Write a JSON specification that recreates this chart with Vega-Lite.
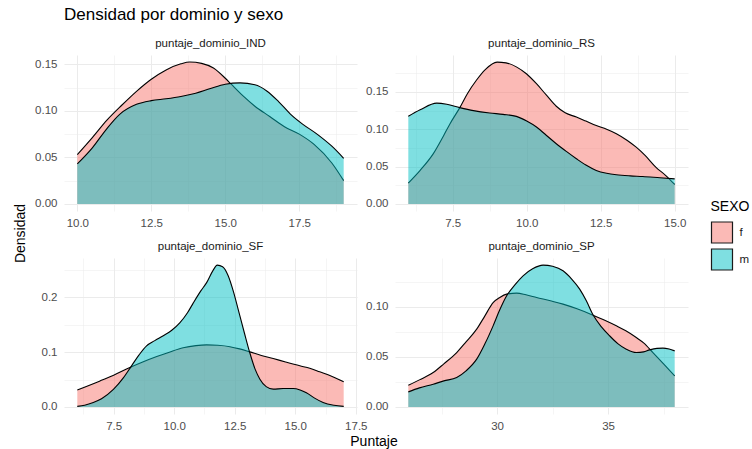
{
  "$schema": "https://vega.github.io/schema/vega-lite/v6.json",
  "padding": {"left": 13, "top": 5, "right": 5, "bottom": 5},
  "title": {"text": "Densidad por dominio y sexo", "anchor": "start", "frame": "group", "fontSize": 17, "fontWeight": "normal", "font": "Liberation Sans", "color": "#000000", "offset": 14},
  "data": {"values": [
    {"d":"IND","s":"f","p":10.0,"v":0.053},{"d":"IND","s":"f","p":10.5,"v":0.071},{"d":"IND","s":"f","p":11.0,"v":0.090},{"d":"IND","s":"f","p":11.5,"v":0.106},{"d":"IND","s":"f","p":12.0,"v":0.121},{"d":"IND","s":"f","p":12.5,"v":0.134},{"d":"IND","s":"f","p":13.0,"v":0.144},{"d":"IND","s":"f","p":13.5,"v":0.1505},{"d":"IND","s":"f","p":13.8,"v":0.1525},{"d":"IND","s":"f","p":14.2,"v":0.151},{"d":"IND","s":"f","p":14.6,"v":0.146},{"d":"IND","s":"f","p":15.0,"v":0.135},{"d":"IND","s":"f","p":15.2,"v":0.1286},{"d":"IND","s":"f","p":15.6,"v":0.116},{"d":"IND","s":"f","p":16.0,"v":0.105},{"d":"IND","s":"f","p":16.5,"v":0.094},{"d":"IND","s":"f","p":17.0,"v":0.083},{"d":"IND","s":"f","p":17.5,"v":0.075},{"d":"IND","s":"f","p":18.0,"v":0.064},{"d":"IND","s":"f","p":18.6,"v":0.044},{"d":"IND","s":"f","p":19.0,"v":0.025},
    {"d":"IND","s":"m","p":10.0,"v":0.043},{"d":"IND","s":"m","p":10.5,"v":0.060},{"d":"IND","s":"m","p":11.0,"v":0.081},{"d":"IND","s":"m","p":11.44,"v":0.0965},{"d":"IND","s":"m","p":12.0,"v":0.107},{"d":"IND","s":"m","p":12.5,"v":0.111},{"d":"IND","s":"m","p":13.0,"v":0.113},{"d":"IND","s":"m","p":13.5,"v":0.1155},{"d":"IND","s":"m","p":14.0,"v":0.119},{"d":"IND","s":"m","p":14.5,"v":0.124},{"d":"IND","s":"m","p":15.0,"v":0.1285},{"d":"IND","s":"m","p":15.5,"v":0.130},{"d":"IND","s":"m","p":16.0,"v":0.128},{"d":"IND","s":"m","p":16.4,"v":0.1214},{"d":"IND","s":"m","p":16.8,"v":0.110},{"d":"IND","s":"m","p":17.2,"v":0.0965},{"d":"IND","s":"m","p":17.6,"v":0.086},{"d":"IND","s":"m","p":18.1,"v":0.075},{"d":"IND","s":"m","p":18.6,"v":0.062},{"d":"IND","s":"m","p":19.0,"v":0.049},
    {"d":"RS","s":"f","p":6.0,"v":0.028},{"d":"RS","s":"f","p":6.4,"v":0.045},{"d":"RS","s":"f","p":6.84,"v":0.067},{"d":"RS","s":"f","p":7.2,"v":0.092},{"d":"RS","s":"f","p":7.41,"v":0.1075},{"d":"RS","s":"f","p":7.74,"v":0.129},{"d":"RS","s":"f","p":8.0,"v":0.148},{"d":"RS","s":"f","p":8.3,"v":0.1657},{"d":"RS","s":"f","p":8.6,"v":0.180},{"d":"RS","s":"f","p":9.0,"v":0.190},{"d":"RS","s":"f","p":9.3,"v":0.189},{"d":"RS","s":"f","p":9.65,"v":0.1836},{"d":"RS","s":"f","p":10.0,"v":0.174},{"d":"RS","s":"f","p":10.33,"v":0.161},{"d":"RS","s":"f","p":10.66,"v":0.146},{"d":"RS","s":"f","p":11.0,"v":0.1308},{"d":"RS","s":"f","p":11.3,"v":0.122},{"d":"RS","s":"f","p":11.68,"v":0.1164},{"d":"RS","s":"f","p":12.0,"v":0.111},{"d":"RS","s":"f","p":12.35,"v":0.105},{"d":"RS","s":"f","p":12.7,"v":0.100},{"d":"RS","s":"f","p":13.03,"v":0.094},{"d":"RS","s":"f","p":13.4,"v":0.085},{"d":"RS","s":"f","p":13.7,"v":0.076},{"d":"RS","s":"f","p":14.0,"v":0.065},{"d":"RS","s":"f","p":14.37,"v":0.049},{"d":"RS","s":"f","p":14.7,"v":0.038},{"d":"RS","s":"f","p":15.0,"v":0.026},
    {"d":"RS","s":"m","p":6.0,"v":0.1173},{"d":"RS","s":"m","p":6.4,"v":0.126},{"d":"RS","s":"m","p":6.96,"v":0.135},{"d":"RS","s":"m","p":7.3,"v":0.1335},{"d":"RS","s":"m","p":7.74,"v":0.129},{"d":"RS","s":"m","p":8.2,"v":0.125},{"d":"RS","s":"m","p":8.75,"v":0.1218},{"d":"RS","s":"m","p":9.2,"v":0.120},{"d":"RS","s":"m","p":9.65,"v":0.1173},{"d":"RS","s":"m","p":10.0,"v":0.111},{"d":"RS","s":"m","p":10.33,"v":0.103},{"d":"RS","s":"m","p":10.66,"v":0.092},{"d":"RS","s":"m","p":11.0,"v":0.0806},{"d":"RS","s":"m","p":11.35,"v":0.070},{"d":"RS","s":"m","p":11.68,"v":0.0605},{"d":"RS","s":"m","p":12.0,"v":0.052},{"d":"RS","s":"m","p":12.35,"v":0.0448},{"d":"RS","s":"m","p":12.7,"v":0.041},{"d":"RS","s":"m","p":13.03,"v":0.039},{"d":"RS","s":"m","p":13.5,"v":0.0375},{"d":"RS","s":"m","p":13.92,"v":0.0367},{"d":"RS","s":"m","p":14.5,"v":0.035},{"d":"RS","s":"m","p":15.0,"v":0.0336},
    {"d":"SF","s":"f","p":6.0,"v":0.031},{"d":"SF","s":"f","p":6.94,"v":0.0475},{"d":"SF","s":"f","p":7.5,"v":0.058},{"d":"SF","s":"f","p":8.17,"v":0.072},{"d":"SF","s":"f","p":8.7,"v":0.082},{"d":"SF","s":"f","p":9.28,"v":0.092},{"d":"SF","s":"f","p":9.8,"v":0.100},{"d":"SF","s":"f","p":10.37,"v":0.108},{"d":"SF","s":"f","p":10.9,"v":0.112},{"d":"SF","s":"f","p":11.34,"v":0.1133},{"d":"SF","s":"f","p":11.8,"v":0.1125},{"d":"SF","s":"f","p":12.3,"v":0.110},{"d":"SF","s":"f","p":12.7,"v":0.106},{"d":"SF","s":"f","p":13.12,"v":0.1005},{"d":"SF","s":"f","p":13.6,"v":0.094},{"d":"SF","s":"f","p":14.09,"v":0.0883},{"d":"SF","s":"f","p":14.6,"v":0.082},{"d":"SF","s":"f","p":15.19,"v":0.075},{"d":"SF","s":"f","p":15.6,"v":0.0705},{"d":"SF","s":"f","p":16.01,"v":0.064},{"d":"SF","s":"f","p":16.5,"v":0.056},{"d":"SF","s":"f","p":17.0,"v":0.0457},
    {"d":"SF","s":"m","p":6.0,"v":0.001},{"d":"SF","s":"m","p":6.3,"v":0.003},{"d":"SF","s":"m","p":6.66,"v":0.008},{"d":"SF","s":"m","p":7.0,"v":0.015},{"d":"SF","s":"m","p":7.49,"v":0.032},{"d":"SF","s":"m","p":7.9,"v":0.053},{"d":"SF","s":"m","p":8.24,"v":0.075},{"d":"SF","s":"m","p":8.55,"v":0.095},{"d":"SF","s":"m","p":8.86,"v":0.1115},{"d":"SF","s":"m","p":9.2,"v":0.121},{"d":"SF","s":"m","p":9.55,"v":0.130},{"d":"SF","s":"m","p":9.9,"v":0.140},{"d":"SF","s":"m","p":10.24,"v":0.154},{"d":"SF","s":"m","p":10.55,"v":0.172},{"d":"SF","s":"m","p":10.79,"v":0.190},{"d":"SF","s":"m","p":11.1,"v":0.212},{"d":"SF","s":"m","p":11.34,"v":0.227},{"d":"SF","s":"m","p":11.6,"v":0.249},{"d":"SF","s":"m","p":11.78,"v":0.259},{"d":"SF","s":"m","p":12.0,"v":0.256},{"d":"SF","s":"m","p":12.23,"v":0.2395},{"d":"SF","s":"m","p":12.45,"v":0.210},{"d":"SF","s":"m","p":12.64,"v":0.1786},{"d":"SF","s":"m","p":12.9,"v":0.135},{"d":"SF","s":"m","p":13.12,"v":0.0993},{"d":"SF","s":"m","p":13.35,"v":0.068},{"d":"SF","s":"m","p":13.54,"v":0.0506},{"d":"SF","s":"m","p":13.8,"v":0.037},{"d":"SF","s":"m","p":14.09,"v":0.0324},{"d":"SF","s":"m","p":14.5,"v":0.0335},{"d":"SF","s":"m","p":14.91,"v":0.0335},{"d":"SF","s":"m","p":15.2,"v":0.031},{"d":"SF","s":"m","p":15.46,"v":0.026},{"d":"SF","s":"m","p":15.8,"v":0.016},{"d":"SF","s":"m","p":16.15,"v":0.008},{"d":"SF","s":"m","p":16.6,"v":0.003},{"d":"SF","s":"m","p":17.0,"v":0.001},
    {"d":"SP","s":"f","p":26.0,"v":0.0217},{"d":"SP","s":"f","p":26.5,"v":0.027},{"d":"SP","s":"f","p":27.12,"v":0.0343},{"d":"SP","s":"f","p":27.6,"v":0.043},{"d":"SP","s":"f","p":28.18,"v":0.0543},{"d":"SP","s":"f","p":28.6,"v":0.065},{"d":"SP","s":"f","p":29.08,"v":0.0777},{"d":"SP","s":"f","p":29.45,"v":0.091},{"d":"SP","s":"f","p":29.82,"v":0.1043},{"d":"SP","s":"f","p":30.1,"v":0.109},{"d":"SP","s":"f","p":30.43,"v":0.1127},{"d":"SP","s":"f","p":30.88,"v":0.1137},{"d":"SP","s":"f","p":31.3,"v":0.112},{"d":"SP","s":"f","p":31.78,"v":0.1093},{"d":"SP","s":"f","p":32.4,"v":0.106},{"d":"SP","s":"f","p":32.97,"v":0.1027},{"d":"SP","s":"f","p":33.6,"v":0.098},{"d":"SP","s":"f","p":34.32,"v":0.0917},{"d":"SP","s":"f","p":34.8,"v":0.087},{"d":"SP","s":"f","p":35.37,"v":0.081},{"d":"SP","s":"f","p":35.8,"v":0.076},{"d":"SP","s":"f","p":36.27,"v":0.0693},{"d":"SP","s":"f","p":36.6,"v":0.064},{"d":"SP","s":"f","p":37.02,"v":0.0543},{"d":"SP","s":"f","p":37.5,"v":0.043},{"d":"SP","s":"f","p":38.0,"v":0.031},
    {"d":"SP","s":"m","p":26.0,"v":0.015},{"d":"SP","s":"m","p":26.5,"v":0.019},{"d":"SP","s":"m","p":27.12,"v":0.0227},{"d":"SP","s":"m","p":27.6,"v":0.026},{"d":"SP","s":"m","p":28.18,"v":0.0293},{"d":"SP","s":"m","p":28.6,"v":0.036},{"d":"SP","s":"m","p":29.08,"v":0.0477},{"d":"SP","s":"m","p":29.45,"v":0.063},{"d":"SP","s":"m","p":29.82,"v":0.081},{"d":"SP","s":"m","p":30.1,"v":0.096},{"d":"SP","s":"m","p":30.43,"v":0.111},{"d":"SP","s":"m","p":30.8,"v":0.122},{"d":"SP","s":"m","p":31.17,"v":0.131},{"d":"SP","s":"m","p":31.6,"v":0.138},{"d":"SP","s":"m","p":32.07,"v":0.1417},{"d":"SP","s":"m","p":32.5,"v":0.1405},{"d":"SP","s":"m","p":32.97,"v":0.136},{"d":"SP","s":"m","p":33.35,"v":0.128},{"d":"SP","s":"m","p":33.72,"v":0.1177},{"d":"SP","s":"m","p":34.02,"v":0.106},{"d":"SP","s":"m","p":34.32,"v":0.092},{"d":"SP","s":"m","p":34.7,"v":0.080},{"d":"SP","s":"m","p":35.07,"v":0.071},{"d":"SP","s":"m","p":35.45,"v":0.063},{"d":"SP","s":"m","p":35.82,"v":0.0577},{"d":"SP","s":"m","p":36.27,"v":0.0543},{"d":"SP","s":"m","p":36.6,"v":0.055},{"d":"SP","s":"m","p":36.87,"v":0.057},{"d":"SP","s":"m","p":37.2,"v":0.0585},{"d":"SP","s":"m","p":37.47,"v":0.0587},{"d":"SP","s":"m","p":37.75,"v":0.0578},{"d":"SP","s":"m","p":38.0,"v":0.056}
  ]},
  "columns": 2,
  "bounds": "flush",
  "spacing": {"row": 47, "column": 38},
  "concat": [
    {
      "width": 293, "height": 156,
      "title": {"text": "puntaje_dominio_IND", "fontWeight": "normal", "fontSize": 11.5, "color": "#1a1a1a", "offset": 6},
      "transform": [{"filter": "datum.d == 'IND'"}],
      "encoding": {
        "x": {"field": "p", "type": "quantitative", "scale": {"domain": [9.55, 19.45], "nice": false, "zero": false},
              "axis": {"title": null, "values": [10, 11.25, 12.5, 13.75, 15, 16.25, 17.5, 18.75], "labelExpr": "indexof([10,12.5,15,17.5], datum.value) < 0 ? '' : format(datum.value, '.1f')", "gridWidth": {"condition": {"test": "indexof([10,12.5,15,17.5], datum.value) < 0", "value": 0.5}, "value": 1}}},
        "y": {"field": "v", "type": "quantitative", "scale": {"domain": [-0.0076, 0.16], "nice": false},
              "axis": {"title": "Densidad", "titleY": 178, "values": [0, 0.025, 0.05, 0.075, 0.1, 0.125, 0.15], "labelExpr": "indexof([0,0.05,0.1,0.15], datum.value) < 0 ? '' : format(datum.value, '.2f')", "gridWidth": {"condition": {"test": "indexof([0,0.05,0.1,0.15], datum.value) < 0", "value": 0.5}, "value": 1}}}
      },
      "layer": [
        {"transform": [{"filter": "datum.s == 'f'"}], "mark": {"type": "area", "fillOpacity": 0.5, "interpolate": "monotone"},
         "encoding": {"fill": {"field": "s", "type": "nominal", "title": "SEXO", "scale": {"domain": ["f", "m"], "range": ["#F8766D", "#00BFC4"]},
           "legend": {"orient": "none", "legendX": 646.5, "legendY": 145, "symbolType": "square", "symbolSize": 441, "symbolStrokeColor": "#1a1a1a", "symbolStrokeWidth": 1.2, "rowPadding": 0, "padding": 0, "titlePadding": 7, "labelOffset": 6,
             "encode": {"symbols": {"update": {"fillOpacity": {"value": 0.5}, "stroke": {"value": "#1a1a1a"}, "strokeWidth": {"value": 1.2}, "opacity": {"value": 1}}}}}}}},
        {"transform": [{"filter": "datum.s == 'f'"}], "mark": {"type": "line", "color": "#000000", "strokeWidth": 1.1, "interpolate": "monotone"}, "encoding": {}},
        {"transform": [{"filter": "datum.s == 'm'"}], "mark": {"type": "area", "fillOpacity": 0.5, "interpolate": "monotone"},
         "encoding": {"fill": {"field": "s", "type": "nominal", "title": "SEXO", "scale": {"domain": ["f", "m"], "range": ["#F8766D", "#00BFC4"]}}}},
        {"transform": [{"filter": "datum.s == 'm'"}], "mark": {"type": "line", "color": "#000000", "strokeWidth": 1.1, "interpolate": "monotone"}, "encoding": {}}
      ]
    },
    {
      "width": 293, "height": 156,
      "title": {"text": "puntaje_dominio_RS", "fontWeight": "normal", "fontSize": 11.5, "color": "#1a1a1a", "offset": 6},
      "transform": [{"filter": "datum.d == 'RS'"}],
      "encoding": {
        "x": {"field": "p", "type": "quantitative", "scale": {"domain": [5.55, 15.45], "nice": false, "zero": false},
              "axis": {"title": null, "values": [6.25, 7.5, 8.75, 10, 11.25, 12.5, 13.75, 15], "labelExpr": "indexof([7.5,10,12.5,15], datum.value) < 0 ? '' : format(datum.value, '.1f')", "gridWidth": {"condition": {"test": "indexof([7.5,10,12.5,15], datum.value) < 0", "value": 0.5}, "value": 1}}},
        "y": {"field": "v", "type": "quantitative", "scale": {"domain": [-0.0095, 0.1995], "nice": false},
              "axis": {"title": null, "values": [0, 0.025, 0.05, 0.075, 0.1, 0.125, 0.15, 0.175], "labelExpr": "indexof([0,0.05,0.1,0.15], datum.value) < 0 ? '' : format(datum.value, '.2f')", "gridWidth": {"condition": {"test": "indexof([0,0.05,0.1,0.15], datum.value) < 0", "value": 0.5}, "value": 1}}}
      },
      "layer": [
        {"transform": [{"filter": "datum.s == 'f'"}], "mark": {"type": "area", "fillOpacity": 0.5, "interpolate": "monotone"},
         "encoding": {"fill": {"field": "s", "type": "nominal", "title": "SEXO", "scale": {"domain": ["f", "m"], "range": ["#F8766D", "#00BFC4"]}}}},
        {"transform": [{"filter": "datum.s == 'f'"}], "mark": {"type": "line", "color": "#000000", "strokeWidth": 1.1, "interpolate": "monotone"}, "encoding": {}},
        {"transform": [{"filter": "datum.s == 'm'"}], "mark": {"type": "area", "fillOpacity": 0.5, "interpolate": "monotone"},
         "encoding": {"fill": {"field": "s", "type": "nominal", "title": "SEXO", "scale": {"domain": ["f", "m"], "range": ["#F8766D", "#00BFC4"]}}}},
        {"transform": [{"filter": "datum.s == 'm'"}], "mark": {"type": "line", "color": "#000000", "strokeWidth": 1.1, "interpolate": "monotone"}, "encoding": {}}
      ]
    },
    {
      "width": 293, "height": 156,
      "title": {"text": "puntaje_dominio_SF", "fontWeight": "normal", "fontSize": 11.5, "color": "#1a1a1a", "offset": 6},
      "transform": [{"filter": "datum.d == 'SF'"}],
      "encoding": {
        "x": {"field": "p", "type": "quantitative", "scale": {"domain": [5.45, 17.55], "nice": false, "zero": false},
              "axis": {"title": "Puntaje", "titleX": 309.5, "values": [6.25, 7.5, 8.75, 10, 11.25, 12.5, 13.75, 15, 16.25, 17.5], "labelExpr": "indexof([7.5,10,12.5,15,17.5], datum.value) < 0 ? '' : format(datum.value, '.1f')", "gridWidth": {"condition": {"test": "indexof([7.5,10,12.5,15,17.5], datum.value) < 0", "value": 0.5}, "value": 1}}},
        "y": {"field": "v", "type": "quantitative", "scale": {"domain": [-0.013, 0.272], "nice": false},
              "axis": {"title": null, "values": [0, 0.05, 0.1, 0.15, 0.2, 0.25], "labelExpr": "indexof([0,0.1,0.2], datum.value) < 0 ? '' : format(datum.value, '.1f')", "gridWidth": {"condition": {"test": "indexof([0,0.1,0.2], datum.value) < 0", "value": 0.5}, "value": 1}}}
      },
      "layer": [
        {"transform": [{"filter": "datum.s == 'f'"}], "mark": {"type": "area", "fillOpacity": 0.5, "interpolate": "monotone"},
         "encoding": {"fill": {"field": "s", "type": "nominal", "title": "SEXO", "scale": {"domain": ["f", "m"], "range": ["#F8766D", "#00BFC4"]}}}},
        {"transform": [{"filter": "datum.s == 'f'"}], "mark": {"type": "line", "color": "#000000", "strokeWidth": 1.1, "interpolate": "monotone"}, "encoding": {}},
        {"transform": [{"filter": "datum.s == 'm'"}], "mark": {"type": "area", "fillOpacity": 0.5, "interpolate": "monotone"},
         "encoding": {"fill": {"field": "s", "type": "nominal", "title": "SEXO", "scale": {"domain": ["f", "m"], "range": ["#F8766D", "#00BFC4"]}}}},
        {"transform": [{"filter": "datum.s == 'm'"}], "mark": {"type": "line", "color": "#000000", "strokeWidth": 1.1, "interpolate": "monotone"}, "encoding": {}}
      ]
    },
    {
      "width": 293, "height": 156,
      "title": {"text": "puntaje_dominio_SP", "fontWeight": "normal", "fontSize": 11.5, "color": "#1a1a1a", "offset": 6},
      "transform": [{"filter": "datum.d == 'SP'"}],
      "encoding": {
        "x": {"field": "p", "type": "quantitative", "scale": {"domain": [25.4, 38.6], "nice": false, "zero": false},
              "axis": {"title": null, "values": [27.5, 30, 32.5, 35, 37.5], "labelExpr": "indexof([30,35], datum.value) < 0 ? '' : format(datum.value, 'd')", "gridWidth": {"condition": {"test": "indexof([30,35], datum.value) < 0", "value": 0.5}, "value": 1}}},
        "y": {"field": "v", "type": "quantitative", "scale": {"domain": [-0.0071, 0.1488], "nice": false},
              "axis": {"title": null, "values": [0, 0.025, 0.05, 0.075, 0.1, 0.125], "labelExpr": "indexof([0,0.05,0.1], datum.value) < 0 ? '' : format(datum.value, '.2f')", "gridWidth": {"condition": {"test": "indexof([0,0.05,0.1], datum.value) < 0", "value": 0.5}, "value": 1}}}
      },
      "layer": [
        {"transform": [{"filter": "datum.s == 'f'"}], "mark": {"type": "area", "fillOpacity": 0.5, "interpolate": "monotone"},
         "encoding": {"fill": {"field": "s", "type": "nominal", "title": "SEXO", "scale": {"domain": ["f", "m"], "range": ["#F8766D", "#00BFC4"]}}}},
        {"transform": [{"filter": "datum.s == 'f'"}], "mark": {"type": "line", "color": "#000000", "strokeWidth": 1.1, "interpolate": "monotone"}, "encoding": {}},
        {"transform": [{"filter": "datum.s == 'm'"}], "mark": {"type": "area", "fillOpacity": 0.5, "interpolate": "monotone"},
         "encoding": {"fill": {"field": "s", "type": "nominal", "title": "SEXO", "scale": {"domain": ["f", "m"], "range": ["#F8766D", "#00BFC4"]}}}},
        {"transform": [{"filter": "datum.s == 'm'"}], "mark": {"type": "line", "color": "#000000", "strokeWidth": 1.1, "interpolate": "monotone"}, "encoding": {}}
      ]
    }
  ],
  "config": {
    "font": "Liberation Sans",
    "view": {"stroke": null},
    "axis": {"domain": false, "ticks": false, "labelFont": "Liberation Sans", "labelFontSize": 11.5, "labelColor": "#4d4d4d", "gridColor": "#ebebeb", "titleFont": "Liberation Sans", "titleFontSize": 14, "titleFontWeight": "normal", "titleColor": "#000000", "labelOverlap": false},
    "axisX": {"labelPadding": 6, "titlePadding": 3},
    "axisY": {"labelPadding": 7, "titlePadding": 7},
    "legend": {"titleFont": "Liberation Sans", "titleFontSize": 14, "titleFontWeight": "normal", "titleColor": "#000000", "labelFont": "Liberation Sans", "labelFontSize": 11.5, "labelColor": "#1a1a1a"}
  }
}
